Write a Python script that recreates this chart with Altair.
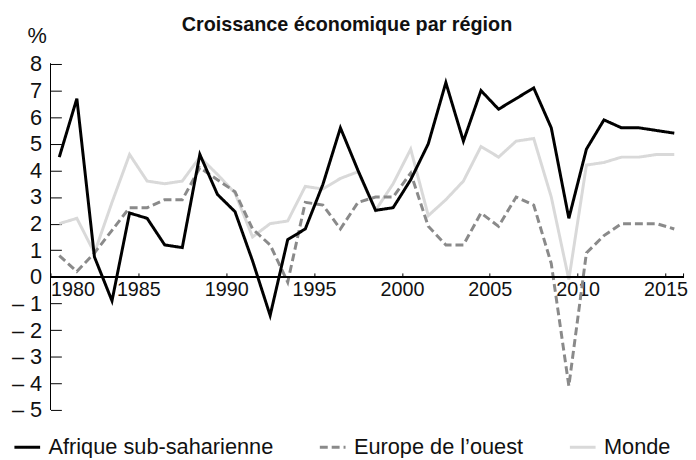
import altair as alt
import pandas as pd

years = list(range(1980, 2016))
afrique = [4.5, 6.7, 0.75, -0.9, 2.4, 2.2, 1.2, 1.1, 4.6, 3.1, 2.45, 0.6, -1.45, 1.4, 1.8, 3.47,
           5.6, 4.0, 2.5, 2.6, 3.65, 5.0, 7.3, 5.1, 7.0, 6.3, 6.7, 7.1, 5.6, 2.2, 4.8, 5.9, 5.6, 5.6, 5.5, 5.4]
europe = [0.8, 0.2, 0.9, 1.75, 2.6, 2.6, 2.9, 2.9, 4.1, 3.65, 3.2, 1.8, 1.2, -0.2, 2.8, 2.7,
          1.8, 2.8, 3.0, 3.0, 3.9, 1.9, 1.2, 1.2, 2.4, 1.9, 3.0, 2.7, 0.5, -4.1, 0.9, 1.55, 2.0, 2.0, 2.0, 1.8]
monde = [2.0, 2.2, 0.9, 2.8, 4.6, 3.6, 3.5, 3.6, 4.5, 3.85, 3.15, 1.5, 2.0, 2.1, 3.4, 3.3,
         3.7, 3.95, 2.5, 3.5, 4.8, 2.3, 2.9, 3.6, 4.9, 4.5, 5.1, 5.2, 3.0, -0.1, 4.2, 4.3, 4.5, 4.5, 4.6, 4.6]

series_names = ["Afrique sub-saharienne", "Europe de l\u2019ouest", "Monde"]
series_colors = ["#000000", "#8a8a8a", "#d9d9d9"]
series_dash = [[1, 0], [8, 4], [1, 0]]
x_ticks = [1980, 1985, 1990, 1995, 2000, 2005, 2010, 2015, 2016]
y_ticks = list(range(-5, 9))

rows = []
for name, vals in zip(series_names, [afrique, europe, monde]):
    for y, v in zip(years, vals):
        rows.append({"year": y, "value": v, "series": name})
df = pd.DataFrame(rows)

FONT = "Liberation Sans"
W, H = 640, 350

x_scale = alt.Scale(domain=[1980, 2016], nice=False, zero=False)
y_scale = alt.Scale(domain=[-5, 8], nice=False)

x_axis = alt.Axis(values=x_ticks, format="d", title=None, domain=False, grid=False,
                  tickSize=4, tickColor="#000", tickWidth=1,
                  offset=-(H * 5 / 13 + 4), labelFlush=True, labelOverlap=False,
                  labelExpr="datum.value == 2016 ? '' : datum.label",
                  labelFont=FONT, labelFontSize=20, labelColor="#111",
                  labelPadding=3)
y_axis = alt.Axis(values=y_ticks, domain=False, grid=False, labelOverlap=False,
                  tickSize=11, tickColor="#000", tickWidth=1, offset=-11,
                  labelExpr="datum.value < 0 ? '\u2013 ' + abs(datum.value) : datum.label",
                  labelFont=FONT, labelFontSize=22, labelColor="#111", labelPadding=9,
                  title="%", titleAngle=0, titleFont=FONT, titleFontSize=22,
                  titleFontWeight="normal", titleColor="#111",
                  titleX=-25, titleY=-22, titleAlign="center", titleBaseline="alphabetic")

x_enc = alt.X("xpos:Q", scale=x_scale, axis=x_axis)
y_enc = alt.Y("value:Q", scale=y_scale, axis=y_axis, title="%")

color_scale = alt.Scale(domain=series_names, range=series_colors)
dash_scale = alt.Scale(domain=series_names, range=series_dash)
legend = alt.Legend(title=None, orient="none", direction="horizontal", legendX=-38, legendY=373,
                    symbolType="stroke", symbolSize=676, symbolStrokeWidth=3,
                    labelFont=FONT, labelFontSize=22, labelColor="#111", labelOffset=7,
                    columnPadding=40, labelLimit=400)

base = alt.Chart(df).transform_calculate(xpos="datum.year + 0.5")

layers = []
for name in ["Monde", "Europe de l\u2019ouest", "Afrique sub-saharienne"]:
    layers.append(
        base.transform_filter(alt.datum.series == name).mark_line(strokeWidth=3, strokeJoin="miter").encode(
            x=x_enc, y=y_enc,
            color=alt.Color("series:N", scale=color_scale, legend=legend),
            strokeDash=alt.StrokeDash("series:N", scale=dash_scale, legend=legend),
        )
    )

zero_rule = alt.Chart(df).mark_rule(color="#000", strokeWidth=1).encode(
    y=alt.YDatum(0, scale=y_scale, axis=y_axis, title="%"))
y_line = alt.Chart(df).mark_rule(color="#000", strokeWidth=1).encode(
    x=alt.XDatum(1980, scale=x_scale, axis=x_axis))

chart = alt.layer(*layers, zero_rule, y_line).properties(
    width=W, height=H,
    title=alt.TitleParams("Croissance \u00e9conomique par r\u00e9gion", font=FONT, fontSize=20,
                          fontWeight="bold", color="#111", anchor="middle", dx=-20, offset=-11),
    autosize=alt.AutoSizeParams(type="none"),
    padding={"left": 43, "top": 54, "right": 5, "bottom": 46},
).configure_view(stroke=None)

chart.save("out.html", embed_options={"renderer": "svg", "actions": False})
